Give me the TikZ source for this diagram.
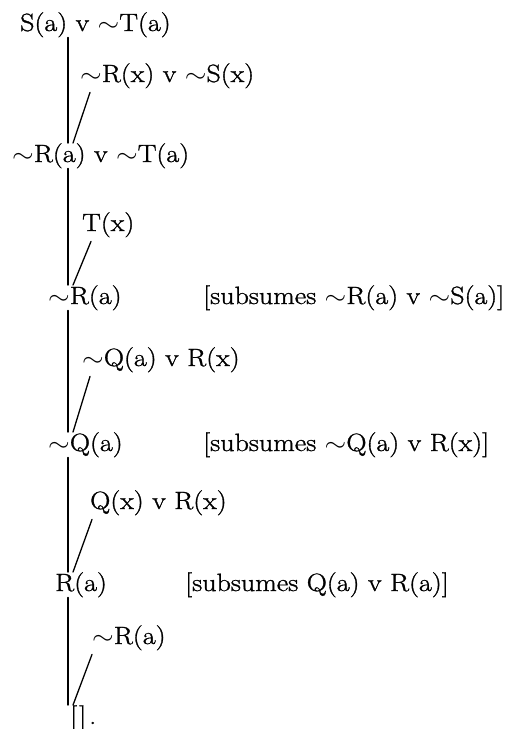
\documentclass[tikz,border=0pt]{standalone}
\usepackage{amsmath,amssymb}
\usepackage{fontspec}
\setmainfont{Latin Modern Roman}[FakeStretch=1.12,FakeBold=1.2]
\usepackage{tikz}
\usetikzlibrary{positioning}
\newcommand{\negsym}{\scalebox{1.12}[1]{$\sim$}}
\tikzstyle{clause}=[anchor=base west,inner sep=0pt,font=\fontsize{25}{30}\selectfont]
\tikzstyle{link}=[line width=1.3pt,line cap=round]

\begin{document}
\begin{tikzpicture}[x=1pt,y=-1pt]
      \useasboundingbox (0,0) rectangle (513,729);
      \coordinate (spine) at (68,0);

      \node[clause] (c1) at (20,31) {S(a) v \negsym T(a)};
      \node[clause] (s1) at (80,82) {\negsym R(x) v \negsym S(x)};
      \node[clause] (c2) at (12,162) {\negsym R(a) v \negsym T(a)};
      \node[clause] (s2) at (82,231) {T(x)};
      \node[clause] (c3) at (48,304) {\negsym R(a)};
      \node[clause] (n3) at (203,304) {[subsumes \negsym R(a) v \negsym S(a)]};
      \node[clause] (s3) at (82,366) {\negsym Q(a) v R(x)};
      \node[clause] (c4) at (48,451) {\negsym Q(a)};
      \node[clause] (n4) at (203,451) {[subsumes \negsym Q(a) v R(x)]};
      \node[clause] (s4) at (90,509) {Q(x) v R(x)};
      \node[clause] (c5) at (55,591) {R(a)};
      \node[clause] (n5) at (185,591) {[subsumes Q(a) v R(a)]};
      \node[clause] (s5) at (92,644) {\negsym R(a)};
      \node[clause] (c6) at (70,724) {[\kern2pt]\kern3pt.};

      \draw[link] (c1.south -| spine)--(c2.north -| spine);
      \draw[link] ([xshift=10pt,yshift=-4pt]s1.south west)--([xshift=5pt]c2.north -| spine);
      \draw[link] (c2.south -| spine)--(c3.north -| spine);
      \draw[link] ([xshift=9pt,yshift=-4pt]s2.south west)--([xshift=5pt]c3.north -| spine);
      \draw[link] (c3.south -| spine)--(c4.north -| spine);
      \draw[link] ([xshift=8pt,yshift=-4pt]s3.south west)--([xshift=5pt]c4.north -| spine);
      \draw[link] (c4.south -| spine)--(c5.north -| spine);
      \draw[link] ([xshift=2pt,yshift=-4pt]s4.south west)--([xshift=5pt]c5.north -| spine);
      \draw[link] (c5.south -| spine)--(c6.north -| spine);
      \draw[link] ([xshift=0pt,yshift=-4pt]s5.south west)--([xshift=5pt]c6.north -| spine);
    \end{tikzpicture}
\end{document}
